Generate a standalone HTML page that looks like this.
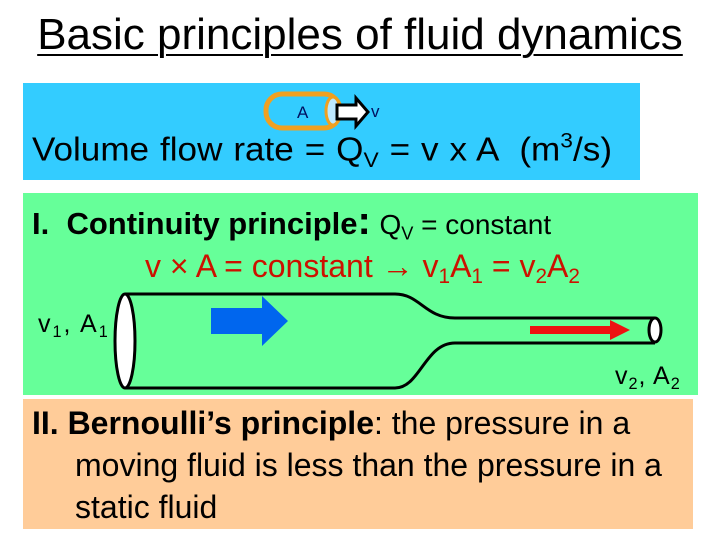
<!DOCTYPE html>
<html><head><style>
body{margin:0;width:720px;height:540px;background:#fff;position:relative;overflow:hidden;font-family:"Liberation Sans",sans-serif}
.a{position:absolute;white-space:nowrap}
sub{font-size:65%;vertical-align:-0.3em}
sup{font-size:65%;vertical-align:0.6em;line-height:0}
</style></head><body>
<div class="a" style="left:0;width:720px;top:10px;text-align:center;font-size:44px;text-decoration:underline;text-decoration-thickness:2px;text-underline-offset:5px">Basic principles of fluid dynamics</div>
<div class="a" style="left:23px;top:83px;width:617px;height:97px;background:#33ccff"></div>
<div class="a" style="left:23px;top:193px;width:675px;height:202px;background:#66ff99"></div>
<div class="a" style="left:23px;top:399px;width:670px;height:130px;background:#ffcc99"></div>
<svg class="a" style="left:0;top:0" width="720" height="540">
<rect x="266" y="94" width="74" height="34" rx="16" fill="#33ccff" stroke="#f0a020" stroke-width="5"/>
<ellipse cx="333" cy="111" rx="7" ry="14" fill="#bde8ff" stroke="#f0a020" stroke-width="3"/>
<polygon points="337,105 356,105 356,98 368,112 356,126 356,119 337,119" fill="#fff" stroke="#000" stroke-width="3"/>
<text x="297" y="118" font-family="Liberation Sans" font-size="17" fill="#001060">A</text>
<text x="371" y="117" font-family="Liberation Sans" font-size="17" fill="#001060">v</text>
<path d="M125,294 L395,294 C420,294 425,318 455,318 L655,318" fill="none" stroke="#000" stroke-width="3"/>
<path d="M125,388 L395,388 C420,388 425,343 455,343 L655,343" fill="none" stroke="#000" stroke-width="3"/>
<ellipse cx="125" cy="341" rx="10" ry="47" fill="#fff" stroke="#000" stroke-width="3"/>
<ellipse cx="655" cy="330" rx="6" ry="12" fill="#fff" stroke="#000" stroke-width="3"/>
<polygon points="211,308 262,308 262,296 288,321 262,346 262,334 211,334" fill="#0066ee"/>
<polygon points="530,326 610,326 610,320 630,330 610,340 610,334 530,334" fill="#ee1111"/>
</svg>
<div class="a" style="left:32px;top:132px;font-size:30px;word-spacing:1px;transform:scale(1.17,1.1);transform-origin:0 0">Volume flow rate = Q<sub>V</sub> = v x A &nbsp;(m<sup>3</sup>/s)</div>
<div class="a" style="left:32px;top:206px;font-size:31px;font-weight:bold">I.&nbsp; Continuity principle<span style="font-size:40px;line-height:0">:</span> <span style="font-weight:normal;font-size:28px">Q<sub>V</sub> = constant</span></div>
<div class="a" style="left:145px;top:248px;font-size:32px;color:#cc1100">v &times; A = constant <b>&#8594;</b> v<sub>1</sub>A<sub>1</sub> = v<sub>2</sub>A<sub>2</sub></div>
<div class="a" style="left:38px;top:310px;font-size:25px;letter-spacing:2px">v<sub>1</sub>, A<sub>1</sub></div>
<div class="a" style="left:615px;top:362px;font-size:25px;letter-spacing:1px">v<sub>2</sub>, A<sub>2</sub></div>
<div class="a" style="left:32px;top:402px;font-size:32px;line-height:42px"><b>II. Bernoulli’s principle</b>: the pressure in a<br><span style="padding-left:43px">moving fluid is less than the pressure in a</span><br><span style="padding-left:43px">static fluid</span></div>
</body></html>
